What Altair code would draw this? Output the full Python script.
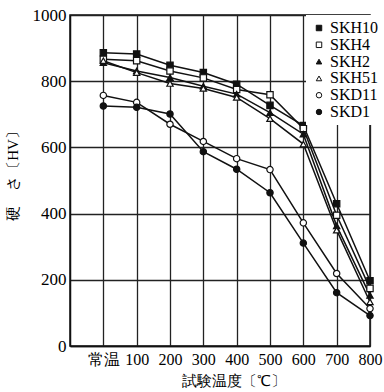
import altair as alt
import pandas as pd

temps = [0, 100, 200, 300, 400, 500, 600, 700, 800]  # 0 = 常温
series_names = ["SKH10", "SKH4", "SKH2", "SKH51", "SKD11", "SKD1"]
skh10 = [886, 882, 848, 826, 791, 727, 666, 430, 197]
skh4 = [866, 862, 831, 810, 775, 759, 657, 395, 174]
skh2 = [856, 831, 811, 785, 761, 705, 640, 363, 153]
skh51 = [862, 826, 793, 778, 751, 687, 610, 350, 133]
skd11 = [757, 736, 670, 618, 566, 533, 372, 219, 113]
skd1 = [725, 721, 701, 587, 534, 463, 311, 161, 92]
values = [skh10, skh4, skh2, skh51, skd11, skd1]

fills = ["#111111", "white", "#111111", "white", "white", "#111111"]
strokes = ["#111111"] * 6
shapes = ["square", "square", "triangle-up", "triangle-up", "circle", "circle"]

rows = []
for name, vals in zip(series_names, values):
    for t, v in zip(temps, vals):
        rows.append({"series": name, "temp": t, "hv": v})
df = pd.DataFrame(rows)

serif = "Liberation Serif"

x = alt.X(
    "temp:Q",
    scale=alt.Scale(domain=[-100, 800], nice=False),
    axis=alt.Axis(
        values=temps,
        labelExpr="datum.value == 0 ? '常温' : datum.label",
        title="試験温度〔℃〕",
        titleX=163,
        titlePadding=6,
        labelPadding=5,
        ticks=False,
        grid=True,
        labelFontSize=16,
        titleFontSize=15,
        labelFlush=False,
    ),
)
y = alt.Y(
    "hv:Q",
    scale=alt.Scale(domain=[0, 1000], nice=False),
    axis=alt.Axis(
        values=[0, 200, 400, 600, 800, 1000],
        format="d",
        title="硬　さ〔HV〕",
        titleY=157,
        titlePadding=12,
        labelPadding=4,
        ticks=False,
        grid=True,
        labelFontSize=17,
        titleFontSize=15,
    ),
)

legend = alt.Legend(
    title=None,
    orient="none",
    legendX=236,
    legendY=0,
    padding=5,
    fillColor="white",
    labelFont=serif,
    labelFontSize=16,
    labelColor="#000000",
    labelOffset=3,
    rowPadding=0.8,
    symbolSize=30,
    symbolStrokeColor="#111111",
    symbolStrokeWidth=1,
)

lines = alt.Chart(df).mark_line(color="#111111", strokeWidth=1.5).encode(
    x=x, y=y, detail="series:N"
)
points = alt.Chart(df).mark_point(
    filled=True, strokeWidth=1.2, size=40, opacity=1
).encode(
    x=x,
    y=y,
    fill=alt.Fill("series:N", scale=alt.Scale(domain=series_names, range=fills), legend=legend),
    stroke=alt.Stroke("series:N", scale=alt.Scale(domain=series_names, range=strokes), legend=legend),
    shape=alt.Shape("series:N", scale=alt.Scale(domain=series_names, range=shapes), legend=legend),
)

chart = (
    alt.layer(lines, points)
    .properties(
        width=300,
        height=331,
        autosize=alt.AutoSizeParams(type="none"),
        padding={"left": 70, "top": 15, "right": 14, "bottom": 46},
        background="white",
    )
    .configure_view(stroke="#111111", strokeWidth=1.5)
    .configure_axis(
        domainColor="#111111",
        domainWidth=1.5,
        gridColor="#222222",
        gridWidth=1.3,
        gridOpacity=1,
        labelFont=serif,
        titleFont=serif,
        labelColor="#000000",
        titleColor="#000000",
        titleFontWeight="normal",
    )
)

chart.save("out.html", embed_options={"renderer": "svg", "actions": False})
